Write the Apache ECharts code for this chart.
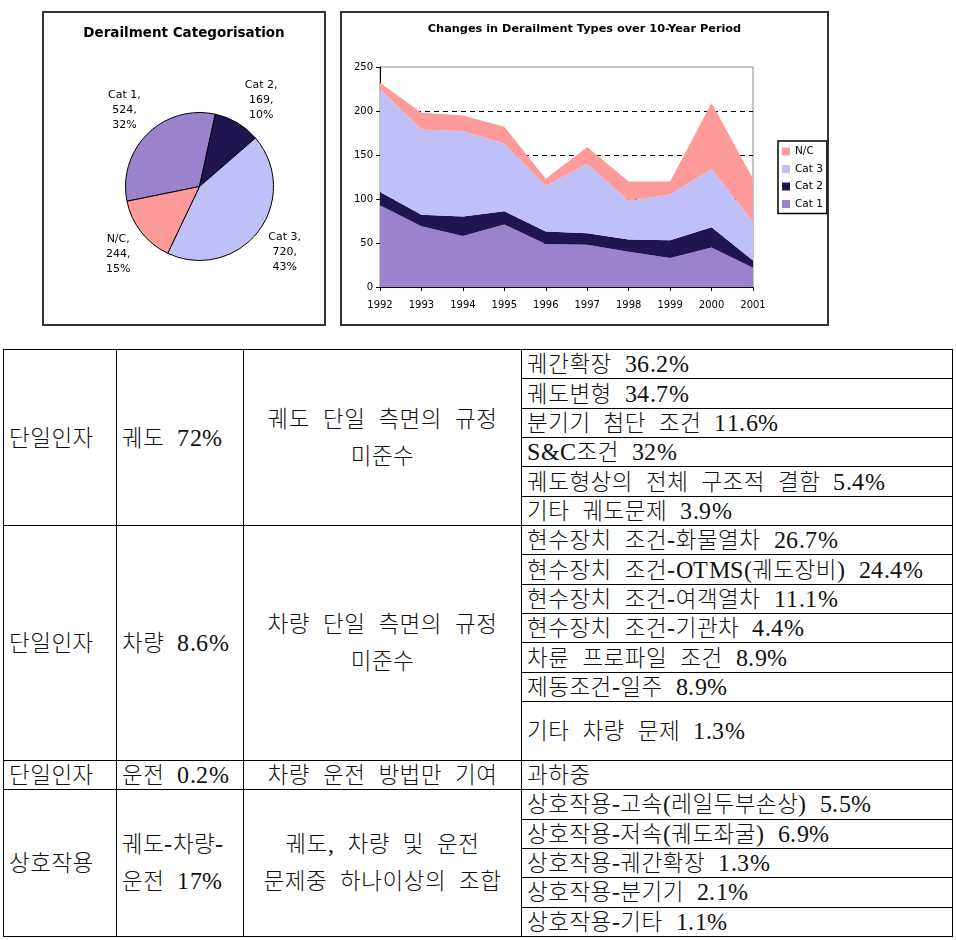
<!DOCTYPE html>
<html>
<head>
<meta charset="utf-8">
<script src="https://cdn.jsdelivr.net/npm/echarts@6/dist/echarts.min.js"></script>
<style>
@font-face{font-family:'TLatin';src:local('Liberation Serif'),local('LiberationSerif');size-adjust:105%;unicode-range:U+0020-007E,U+00A0-00FF}
html,body{margin:0;padding:0;background:#fff;width:956px;height:940px;overflow:hidden;position:relative}
.box{position:absolute;box-sizing:border-box;border:2px solid #333;background:#fff}
#pie{left:42px;top:11px;width:284px;height:315px}
#area{left:340px;top:11px;width:489px;height:315px}
table{position:absolute;left:3px;top:349px;width:949px;border-collapse:collapse;table-layout:fixed;
  font-family:"TLatin","Liberation Serif","Noto Sans CJK KR",serif;font-size:22.5px;letter-spacing:0.5px;word-spacing:6.5px;color:#111;font-weight:300}
td{border:1.5px solid #000;padding:0 0 0 5px;vertical-align:middle;white-space:pre;overflow:hidden;line-height:26px}
td.center{text-align:center;padding:0}
td.multi{line-height:37px}
tr.sub{height:29.35px}
tr.tall{height:58.7px}
</style>
</head>
<body>
<div id="pie" class="box"></div>
<div id="area" class="box"></div>
<table id="tbl">
<colgroup><col style="width:113px"><col style="width:127px"><col style="width:278px"><col style="width:431px"></colgroup>
<tbody id="tb"></tbody>
</table>
<script>
// ---------- Pie data ----------
const pieTitle = 'Derailment Categorisation';
const pieNames = ['Cat 1', 'Cat 2', 'Cat 3', 'N/C'];
const pieValues = [524, 169, 720, 244];

// ---------- Area data ----------
const areaTitle = 'Changes in Derailment Types over 10-Year Period';
const years = ['1992','1993','1994','1995','1996','1997','1998','1999','2000','2001'];
const cat1 = [93, 69, 58, 71, 49, 48, 40, 33, 45, 22];
const cat2 = [15, 13, 22, 15, 14, 13, 14, 20, 23, 8];
const cat3 = [117, 97, 97, 77, 52, 79, 44, 52, 66, 44];
const nc   = [7, 19, 18, 19, 8, 19, 22, 15, 75, 49];
const yTicks = [0, 50, 100, 150, 200, 250];

// ---------- Table data ----------
const factors = ['단일인자', '단일인자', '단일인자', '상호작용'];
const sources = ['궤도 72%', '차량 8.6%', '운전 0.2%', '궤도-차량-\n운전 17%'];
const descriptions = ['궤도 단일 측면의 규정\n미준수', '차량 단일 측면의 규정\n미준수', '차량 운전 방법만 기여', '궤도, 차량 및 운전\n문제중 하나이상의 조합'];
const trackCauses = ['궤간확장 36.2%', '궤도변형 34.7%', '분기기 첨단 조건 11.6%', 'S&C조건 32%', '궤도형상의 전체 구조적 결함 5.4%', '기타 궤도문제 3.9%'];
const vehicleCauses = ['현수장치 조건-화물열차 26.7%', '현수장치 조건-OTMS(궤도장비) 24.4%', '현수장치 조건-여객열차 11.1%', '현수장치 조건-기관차 4.4%', '차륜 프로파일 조건 8.9%', '제동조건-일주 8.9%', '기타 차량 문제 1.3%'];
const operationCauses = ['과하중'];
const interactionCauses = ['상호작용-고속(레일두부손상) 5.5%', '상호작용-저속(궤도좌굴) 6.9%', '상호작용-궤간확장 1.3%', '상호작용-분기기 2.1%', '상호작용-기타 1.1%'];

const colors = { 'Cat 1': '#9A83CC', 'Cat 2': '#21154F', 'Cat 3': '#C0C0F8', 'N/C': '#FF9A9A' };
const sansFont = 'DejaVu Sans';

// ---------- Pie chart ----------
const pieLabelNudge = { 'Cat 2': [7, 6], 'N/C': [3, 2], 'Cat 3': [0, 1] };
const pieChart = echarts.init(document.getElementById('pie'), null, { renderer: 'canvas' });
pieChart.setOption({
  animation: false,
  title: {
    text: pieTitle, left: 'center', top: 13, padding: 0,
    textStyle: { fontFamily: sansFont, fontSize: 13.5, fontWeight: 'bold', color: '#000' }
  },
  series: [{
    type: 'pie',
    center: [155.5, 173.5],
    radius: 74,
    startAngle: 191.5,
    clockwise: true,
    avoidLabelOverlap: false,
    percentPrecision: 0,
    data: pieNames.map((n, i) => ({ name: n, value: pieValues[i], itemStyle: { color: colors[n] } })),
    itemStyle: { borderColor: '#000', borderWidth: 1 },
    label: {
      show: true, position: 'outside', distanceToLabelLine: 0,
      formatter: '{b},\n{c},\n{d}%',
      fontFamily: sansFont, fontSize: 11, lineHeight: 15, color: '#000'
    },
    labelLine: { show: false, length: 33, length2: 0 },
    labelLayout: function (p) {
      const nd = pieLabelNudge[pieNames[p.dataIndex]] || [0, 0];
      return { align: 'center', verticalAlign: 'middle', dx: nd[0], dy: nd[1] };
    },
    emphasis: { disabled: true }
  }]
});

// ---------- Area chart ----------
const areaChart = echarts.init(document.getElementById('area'), null, { renderer: 'canvas' });
const seriesDefs = [['Cat 1', cat1], ['Cat 2', cat2], ['Cat 3', cat3], ['N/C', nc]];
areaChart.setOption({
  animation: false,
  title: {
    text: areaTitle, left: 'center', top: 11, padding: 0,
    textStyle: { fontFamily: sansFont, fontSize: 11.3, fontWeight: 'bold', color: '#000' }
  },
  grid: { left: 38, top: 54, width: 373, height: 220, show: true, borderColor: '#8a8a8a', borderWidth: 1, backgroundColor: '#fff' },
  legend: {
    orient: 'vertical', left: 436, top: 128,
    data: ['N/C', 'Cat 3', 'Cat 2', 'Cat 1'],
    icon: 'rect', itemWidth: 8, itemHeight: 8, itemGap: 4.5,
    padding: [4, 4, 3, 4],
    borderColor: '#000', borderWidth: 1.5,
    textStyle: { fontFamily: sansFont, fontSize: 10.5, color: '#000', lineHeight: 13 },
    selectedMode: false
  },
  xAxis: {
    type: 'category', data: years, boundaryGap: false,
    axisLine: { lineStyle: { color: '#000', width: 1 } },
    axisTick: { show: true, length: 4, lineStyle: { color: '#000' } },
    axisLabel: { fontFamily: sansFont, fontSize: 10, color: '#000', margin: 13 },
    splitLine: { show: false }
  },
  yAxis: {
    type: 'value', min: yTicks[0], max: yTicks[yTicks.length - 1], interval: yTicks[1] - yTicks[0],
    axisLine: { show: true, lineStyle: { color: '#000', width: 1 } },
    axisTick: { show: true, length: 4, lineStyle: { color: '#000' } },
    axisLabel: { fontFamily: sansFont, fontSize: 10, color: '#000', margin: 7 },
    splitLine: { show: true, lineStyle: { color: ['#000', '#000', '#000', '#000', '#000', 'rgba(0,0,0,0)'], type: [5, 4], width: 1 } }
  },
  series: seriesDefs.map(([name, vals]) => ({
    name: name, type: 'line', stack: 'total', data: vals,
    color: colors[name],
    symbol: 'none', showSymbol: false,
    lineStyle: { width: 0, color: colors[name] },
    itemStyle: { color: colors[name] },
    areaStyle: { color: colors[name], opacity: 1 },
    emphasis: { disabled: true }
  }))
});

// ---------- Table ----------
const groups = [trackCauses, vehicleCauses, operationCauses, interactionCauses];
const tb = document.getElementById('tb');
groups.forEach((causes, g) => {
  causes.forEach((cause, i) => {
    const tr = document.createElement('tr');
    const isTall = (g === 1 && i === causes.length - 1);
    tr.className = isTall ? 'tall' : 'sub';
    if (i === 0) {
      const span = causes.length;
      const td1 = document.createElement('td');
      td1.rowSpan = span; td1.textContent = factors[g];
      const td2 = document.createElement('td');
      td2.rowSpan = span; td2.textContent = sources[g];
      if (sources[g].includes('\n')) td2.className = 'multi';
      const td3 = document.createElement('td');
      td3.rowSpan = span; td3.textContent = descriptions[g];
      td3.className = 'center' + (descriptions[g].includes('\n') ? ' multi' : '');
      tr.appendChild(td1); tr.appendChild(td2); tr.appendChild(td3);
    }
    const td4 = document.createElement('td');
    td4.textContent = cause;
    tr.appendChild(td4);
    tb.appendChild(tr);
  });
});
</script>
</body>
</html>
